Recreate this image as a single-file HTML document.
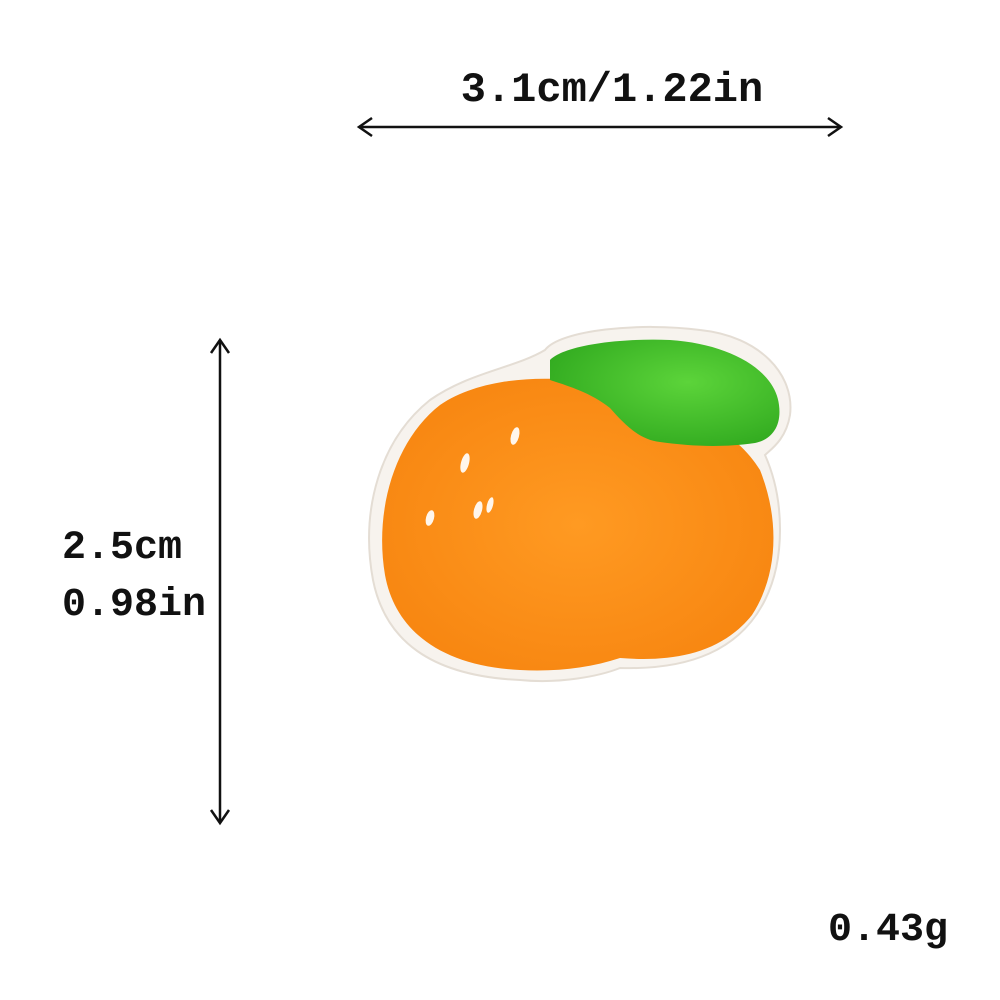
<!DOCTYPE html>
<html><head><meta charset="utf-8"><style>
html,body{margin:0;padding:0;background:#fff;}
svg{display:block}
text{font-family:"Liberation Mono","DejaVu Sans Mono",monospace;font-weight:bold;fill:#111;}
</style></head><body>
<svg width="1000" height="1000" viewBox="0 0 1000 1000">
  <defs>
    <radialGradient id="og" cx="0.5" cy="0.5" r="0.6">
      <stop offset="0" stop-color="#ff9a22"/>
      <stop offset="1" stop-color="#f78510"/>
    </radialGradient>
    <radialGradient id="lg" cx="0.6" cy="0.4" r="0.7">
      <stop offset="0" stop-color="#5cd43a"/>
      <stop offset="1" stop-color="#2fa81e"/>
    </radialGradient>
  </defs>
  <!-- width dimension -->
  <g stroke="#111" stroke-width="2.5" fill="none">
    <line x1="359" y1="127" x2="841" y2="127"/>
    <polyline points="372,118 359,127 372,136"/>
    <polyline points="828,118 841,127 828,136"/>
  </g>
  <text x="612" y="101" font-size="42" text-anchor="middle">3.1cm/1.22in</text>
  <!-- height dimension -->
  <g stroke="#111" stroke-width="2.5" fill="none">
    <line x1="220" y1="340" x2="220" y2="823"/>
    <polyline points="211,353 220,340 229,353"/>
    <polyline points="211,810 220,823 229,810"/>
  </g>
  <text x="62" y="558" font-size="40">2.5cm</text>
  <text x="62" y="615" font-size="40">0.98in</text>
  <text x="828" y="940" font-size="40">0.43g</text>
  <!-- patch -->
  <g>
    <path fill="#f7f3ee" stroke="#e4ddd4" stroke-width="2"
      d="M545,350 C560,330 640,322 700,330 C760,336 795,375 790,415 C786,440 770,450 765,455 C785,500 785,560 765,600 C740,650 690,670 620,668 C600,676 560,684 520,680 C430,676 385,640 373,580 C360,510 380,440 430,400 C470,372 515,368 545,350 Z"/>
    <path fill="url(#og)"
      d="M440,405 C480,378 540,375 590,382 C650,390 730,420 760,470 C780,520 778,575 752,615 C720,655 670,662 620,658 C590,668 555,672 520,670 C440,666 395,630 385,575 C374,510 395,440 440,405 Z"/>
    <path fill="url(#lg)"
      d="M550,360 C565,345 620,338 670,340 C730,344 775,370 779,405 C782,428 770,440 755,443 C720,448 690,446 660,442 C640,440 625,425 610,408 C590,392 565,385 550,380 Z"/>
    <g fill="#fff6ec">
      <ellipse cx="515" cy="436" rx="4" ry="9" transform="rotate(15 515 436)"/>
      <ellipse cx="465" cy="463" rx="4" ry="10" transform="rotate(15 465 463)"/>
      <ellipse cx="478" cy="510" rx="4" ry="9" transform="rotate(15 478 510)"/>
      <ellipse cx="430" cy="518" rx="4" ry="8" transform="rotate(15 430 518)"/>
      <ellipse cx="490" cy="505" rx="3" ry="8" transform="rotate(15 490 505)"/>
    </g>
  </g>
</svg>
</body></html>
